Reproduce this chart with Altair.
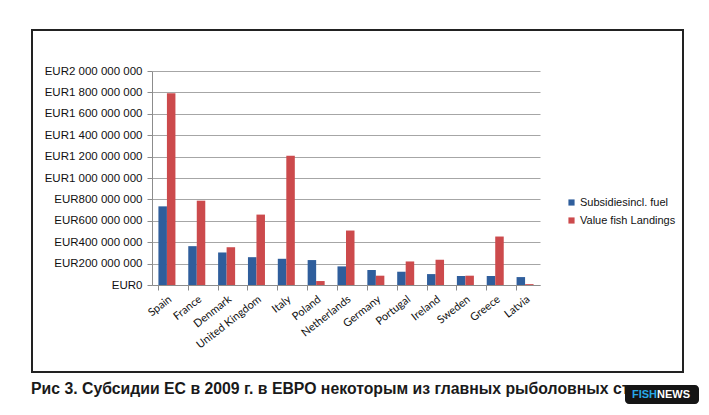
import altair as alt
import pandas as pd

countries = ["Spain", "France", "Denmark", "United Kingdom", "Italy", "Poland",
             "Netherlands", "Germany", "Portugal", "Ireland", "Sweden", "Greece", "Latvia"]
subsidies = [735e6, 363e6, 304e6, 260e6, 245e6, 233e6, 174e6, 140e6, 124e6, 102e6, 84e6, 84e6, 74e6]
landings = [1793e6, 788e6, 353e6, 658e6, 1209e6, 37e6, 509e6, 87e6, 220e6, 236e6, 87e6, 453e6, 8e6]
series_names = ["Subsidiesincl. fuel", "Value fish  Landings"]
series_colors = ["#2f5e9c", "#cc4a4c"]
y_ticks = [0, 200e6, 400e6, 600e6, 800e6, 1000e6, 1200e6, 1400e6, 1600e6, 1800e6, 2000e6]
caption = "Рис 3. Субсидии ЕС в 2009 г. в ЕВРО некоторым из главных рыболовных стран"
badge_left = "FISH"
badge_right = "NEWS"

rows = []
for c, s, l in zip(countries, subsidies, landings):
    rows.append({"country": c, "series": series_names[0], "value": s})
    rows.append({"country": c, "series": series_names[1], "value": l})
df = pd.DataFrame(rows)
one = pd.DataFrame({"k": [0]})

bars = alt.Chart(df).mark_bar().encode(
    x=alt.X("country:N", sort=countries,
            scale=alt.Scale(paddingInner=0.43, paddingOuter=0.215),
            axis=alt.Axis(title=None, labelAngle=-38, bandPosition=0, tickSize=5,
                          labelFont="Lato", labelFontSize=11, labelColor="#111",
                          domainColor="#8c8c8c", tickColor="#8c8c8c", labelPadding=3)),
    xOffset=alt.XOffset("series:N", sort=series_names),
    y=alt.Y("value:Q", scale=alt.Scale(domain=[0, 2e9], nice=False),
            axis=alt.Axis(title=None, values=y_ticks, tickSize=5,
                          labelExpr="'EUR' + join(split(format(datum.value, ',d'), ','), ' ')",
                          labelFont="Liberation Sans", labelFontSize=11.5, labelColor="#111",
                          domainColor="#8c8c8c", tickColor="#8c8c8c",
                          gridColor="#a6a6a6", gridWidth=1, labelPadding=5)),
    color=alt.Color("series:N", sort=series_names,
                    scale=alt.Scale(domain=series_names, range=series_colors),
                    legend=alt.Legend(title=None, orient="none", legendX=414, legendY=126,
                                      symbolType="square", symbolSize=38, symbolStrokeWidth=0,
                                      labelOffset=3,
                                      labelFont="Liberation Sans", labelFontSize=11,
                                      labelColor="#111", rowPadding=6)),
)

frame = alt.Chart(one).mark_rect(fillOpacity=0, stroke="#222", strokeWidth=2).encode(
    x=alt.value(-120), x2=alt.value(531), y=alt.value(-41), y2=alt.value(301)
)

cap = alt.Chart(one).mark_text(align="left", baseline="alphabetic", fontSize=15.8,
                               fontWeight="bold", font="Liberation Sans", color="#1a1a1a").encode(
    x=alt.value(-121), y=alt.value(323), text=alt.value(caption)
)

badge = alt.Chart(one).mark_rect(fill="#151515", cornerRadius=4).encode(
    x=alt.value(473), x2=alt.value(547), y=alt.value(314), y2=alt.value(333)
)
b1 = alt.Chart(one).mark_text(align="right", baseline="middle", fontSize=11, fontWeight="bold",
                              font="Liberation Sans", color="#28a8e8").encode(
    x=alt.value(505), y=alt.value(324), text=alt.value(badge_left)
)
b2 = alt.Chart(one).mark_text(align="left", baseline="middle", fontSize=11, fontWeight="bold",
                              font="Liberation Sans", color="#ffffff").encode(
    x=alt.value(505), y=alt.value(324), text=alt.value(badge_right)
)

chart = alt.layer(frame, bars, cap, badge, b1, b2).properties(
    width=388, height=214,
    padding={"left": 144, "top": 63, "right": 161, "bottom": 122},
    autosize=alt.AutoSizeParams(type="none"),
    background="white",
).configure_view(stroke=None)

chart.save("out.html", embed_options={"renderer": "svg", "actions": False})
